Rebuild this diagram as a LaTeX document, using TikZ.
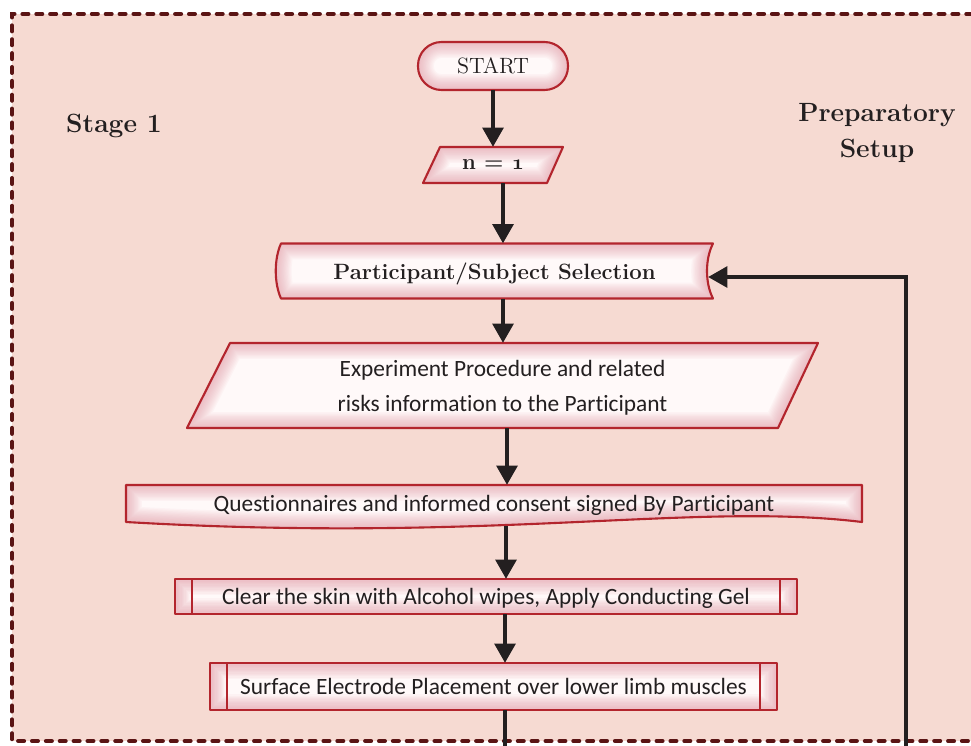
\documentclass[tikz,border=0pt]{standalone}
\usepackage{fontspec}
\newfontfamily\carl[Ligatures=NoCommon]{Carlito}
\usetikzlibrary{arrows.meta,calc}

\definecolor{pagepink}{HTML}{F6DAD2}
\definecolor{framec}{HTML}{5A1414}
\definecolor{boxedge}{HTML}{B3252D}
\definecolor{glowc}{HTML}{E08F9B}
\definecolor{boxin}{HTML}{FFF9F9}
\definecolor{ink}{HTML}{231F20}

\pgfdeclarelayer{bg}
\pgfdeclarelayer{shapes}
\pgfsetlayers{bg,shapes,main}

% #1 = node the shape is centred on, #2 = outline in local units
\newcommand\glowshape[2]{%
  \begin{pgfonlayer}{shapes}
  \begin{scope}[shift={(#1.center)}]
    \fill[boxin] #2;
    \begin{scope}
      \clip #2;
      \foreach \k in {1,...,12}{\draw[glowc,line width=\k*1.5pt,opacity=0.06] #2;}
    \end{scope}
    \draw[boxedge,line width=1.2pt,line join=round] #2;
  \end{scope}
  \end{pgfonlayer}}

\begin{document}
\begin{tikzpicture}[x=0.02cm,y=-0.02cm,
  box/.style={inner sep=0pt,outer sep=0pt,text=ink,align=center,text depth=0pt},
  bodytext/.style={font=\carl\fontsize{13.3}{19.85}\selectfont},
  headtext/.style={font=\bfseries\fontsize{12.6}{15}\selectfont},
  stagetext/.style={text=ink,align=center,font=\bfseries\fontsize{15}{21}\selectfont},
  arr/.style={draw=ink,line width=2.8pt,-{Triangle[width=11.5pt,length=11pt]}},
  shaft/.style={draw=ink,line width=2.8pt},
  sidebar/.style={draw=boxedge,line width=1.2pt}]

\useasboundingbox (0,0) rectangle (971,745);

% page and dotted stage frame
\begin{pgfonlayer}{bg}
  \fill[white] (0,0) rectangle (971,745);
  \fill[pagepink] (12,14) rectangle (1000,741);
  \draw[framec,line width=2.3pt,line cap=round,dash pattern=on 3.4pt off 4.5pt]
    (1000,14) -- (12,14) -- (12,741) -- (1000,741);
\end{pgfonlayer}

% flow nodes
\node[box,minimum width=3cm,minimum height=0.96cm,font=\fontsize{12.6}{15}\selectfont]
  (start) at (493,66) {START};
\node[box,headtext,minimum width=2.8cm,minimum height=0.72cm]
  (n1) at (493,165) {n = {\boldmath$\mathnormal{1}$}};
\node[box,headtext,minimum width=8.74cm,minimum height=1.1cm]
  (part) at (494.5,271) {Participant/Subject Selection};
\node[box,bodytext,minimum width=12.62cm,minimum height=1.7cm]
  (exp) at (502.5,385.5) {Experiment Procedure and related\\risks information to the Participant};
\node[box,bodytext,minimum width=14.72cm,minimum height=0.74cm]
  (quest) at (494,503.5) {Questionnaires and informed consent signed By Participant};
\node[box,bodytext,minimum width=12.44cm,minimum height=0.7cm]
  (clear) at (486,596.5) {Clear the skin with Alcohol wipes, Apply Conducting Gel};
\node[box,bodytext,minimum width=11.34cm,minimum height=0.94cm]
  (surf) at (493.5,686.5) {Surface Electrode Placement over lower limb muscles};

% side labels
\node[stagetext] (stage) at (114,126) {Stage 1};
\node[stagetext] (prep) at (877,133) {Preparatory\\Setup};

% outlines
\glowshape{start}{[rounded corners=0.47cm] (-75,-24) rectangle (75,24)}
\glowshape{n1}{(-53,-18) -- (70,-18) -- (54,18) -- (-70,18) -- cycle}
\glowshape{part}{(-213.5,-27.5) -- (218.5,-27.5) .. controls (210.5,-12) and (210.5,12) .. (218.5,27.5) -- (-213.5,27.5) .. controls (-220.5,12) and (-220.5,-12) .. (-213.5,-27.5) -- cycle}
\glowshape{exp}{(-272.5,-42.5) -- (315.5,-42.5) -- (275.5,42.5) -- (-315.5,42.5) -- cycle}
\glowshape{quest}{(-368,-18.5) -- (368,-18.5) -- (368,18.5) .. controls (200,-2) and (0,40) .. (-368,18.5) -- cycle}
\glowshape{clear}{(-311,-17.5) rectangle (311,17.5)}
\glowshape{surf}{(-283.5,-23.5) rectangle (283.5,23.5)}
\begin{pgfonlayer}{shapes}
  \draw[sidebar] ([shift={(17,0)}]clear.north west) -- ([shift={(17,0)}]clear.south west);
  \draw[sidebar] ([shift={(-17,0)}]clear.north east) -- ([shift={(-17,0)}]clear.south east);
  \draw[sidebar] ([shift={(17,0)}]surf.north west) -- ([shift={(17,0)}]surf.south west);
  \draw[sidebar] ([shift={(-17,0)}]surf.north east) -- ([shift={(-17,0)}]surf.south east);
\end{pgfonlayer}

% connectors
\coordinate (down) at (505,760);
\coordinate (loop) at (906,760);
\draw[arr] (start.south) -- (start.south |- n1.north);
\draw[arr] ([shift={(10,0)}]n1.south) -- ([shift={(10,0)}]n1.south |- part.north);
\draw[arr] ([shift={(8.5,0)}]part.south) -- ([shift={(8.5,0)}]part.south |- exp.north);
\draw[arr] ([shift={(4.5,0)}]exp.south) -- ([shift={(4.5,0)}]exp.south |- quest.north);
\draw[arr] ([shift={(12,4)}]quest.south) -- ([shift={(12,0)}]quest.south |- clear.north);
\draw[arr] ([shift={(19,0)}]clear.south) -- ([shift={(19,0)}]clear.south |- surf.north);
\draw[shaft] ([shift={(11.5,0)}]surf.south) -- ([shift={(11.5,0)}]surf.south |- down);
\draw[arr] (loop) |- ([shift={(-5,6)}]part.east);

\end{tikzpicture}
\end{document}
